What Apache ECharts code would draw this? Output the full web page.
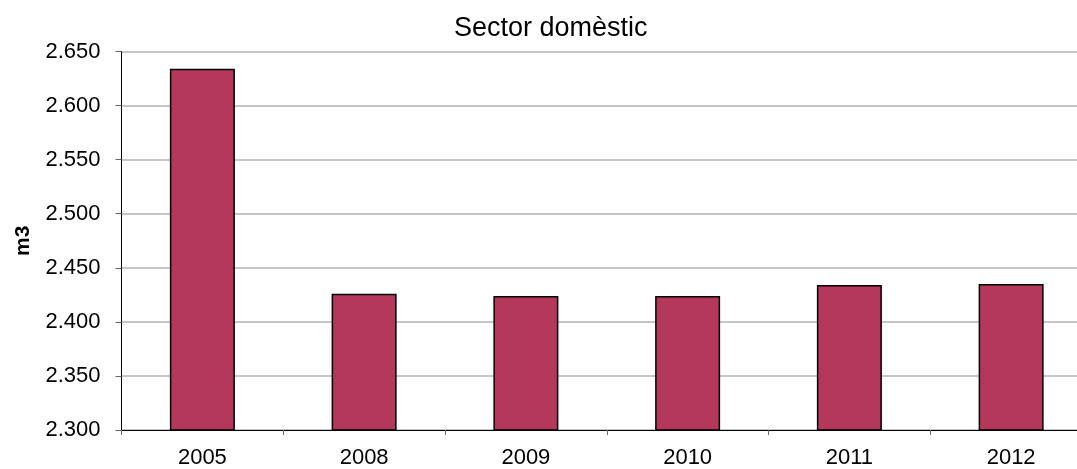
<!DOCTYPE html>
<html>
<head>
<meta charset="utf-8">
<script src="https://cdn.jsdelivr.net/npm/echarts@6/dist/echarts.min.js"></script>
<style>
html,body{margin:0;padding:0;background:#fff;overflow:hidden;width:1077px;height:469px;}
#chart{width:1092px;height:469px;}
</style>
</head>
<body>
<div id="chart"></div>
<script>
const categories = ['2005', '2008', '2009', '2010', '2011', '2012'];
const values = [2634, 2426, 2424, 2424, 2434, 2435];
const titleText = 'Sector domèstic';
const yAxisName = 'm3';

function fmt(v) {
  const s = String(Math.round(v));
  return s.replace(/\B(?=(\d{3})+(?!\d))/g, '.');
}

const chart = echarts.init(document.getElementById('chart'), null, {renderer: 'canvas'});
chart.setOption({
  animation: false,
  backgroundColor: '#ffffff',
  textStyle: {fontFamily: 'Liberation Sans, Arial, sans-serif'},
  title: {
    text: titleText,
    left: 454,
    top: 15,
    padding: 0,
    textStyle: {fontFamily: 'Liberation Sans, Arial, sans-serif', fontSize: 27, fontWeight: 'normal', color: '#000'}
  },
  grid: {left: 121.5, right: 0, top: 51.5, bottom: 37.3, containLabel: false},
  xAxis: {
    type: 'category',
    data: categories,
    axisLine: {lineStyle: {color: '#000', width: 1}},
    axisTick: {show: true, length: 5, lineStyle: {color: '#666'}},
    axisLabel: {color: '#000', fontSize: 22, margin: 17, fontFamily: 'Liberation Sans, Arial, sans-serif'}
  },
  yAxis: {
    type: 'value',
    min: 2300,
    max: 2650,
    interval: 50,
    name: yAxisName,
    nameLocation: 'middle',
    nameGap: 88,
    nameRotate: 90,
    nameTextStyle: {color: '#000', fontSize: 21, fontWeight: 'bold', fontFamily: 'Liberation Sans, Arial, sans-serif'},
    axisLine: {show: true, lineStyle: {color: '#000', width: 1}},
    axisTick: {show: true, length: 6, lineStyle: {color: '#666'}},
    axisLabel: {color: '#000', fontSize: 22, margin: 21, formatter: fmt, fontFamily: 'Liberation Sans, Arial, sans-serif'},
    splitLine: {show: true, lineStyle: {color: '#c6c6c6', width: 2}}
  },
  series: [{
    type: 'bar',
    data: values,
    barWidth: 65,
    itemStyle: {color: '#b3385b', borderColor: '#000', borderWidth: 1.5}
  }]
});
</script>
</body>
</html>
